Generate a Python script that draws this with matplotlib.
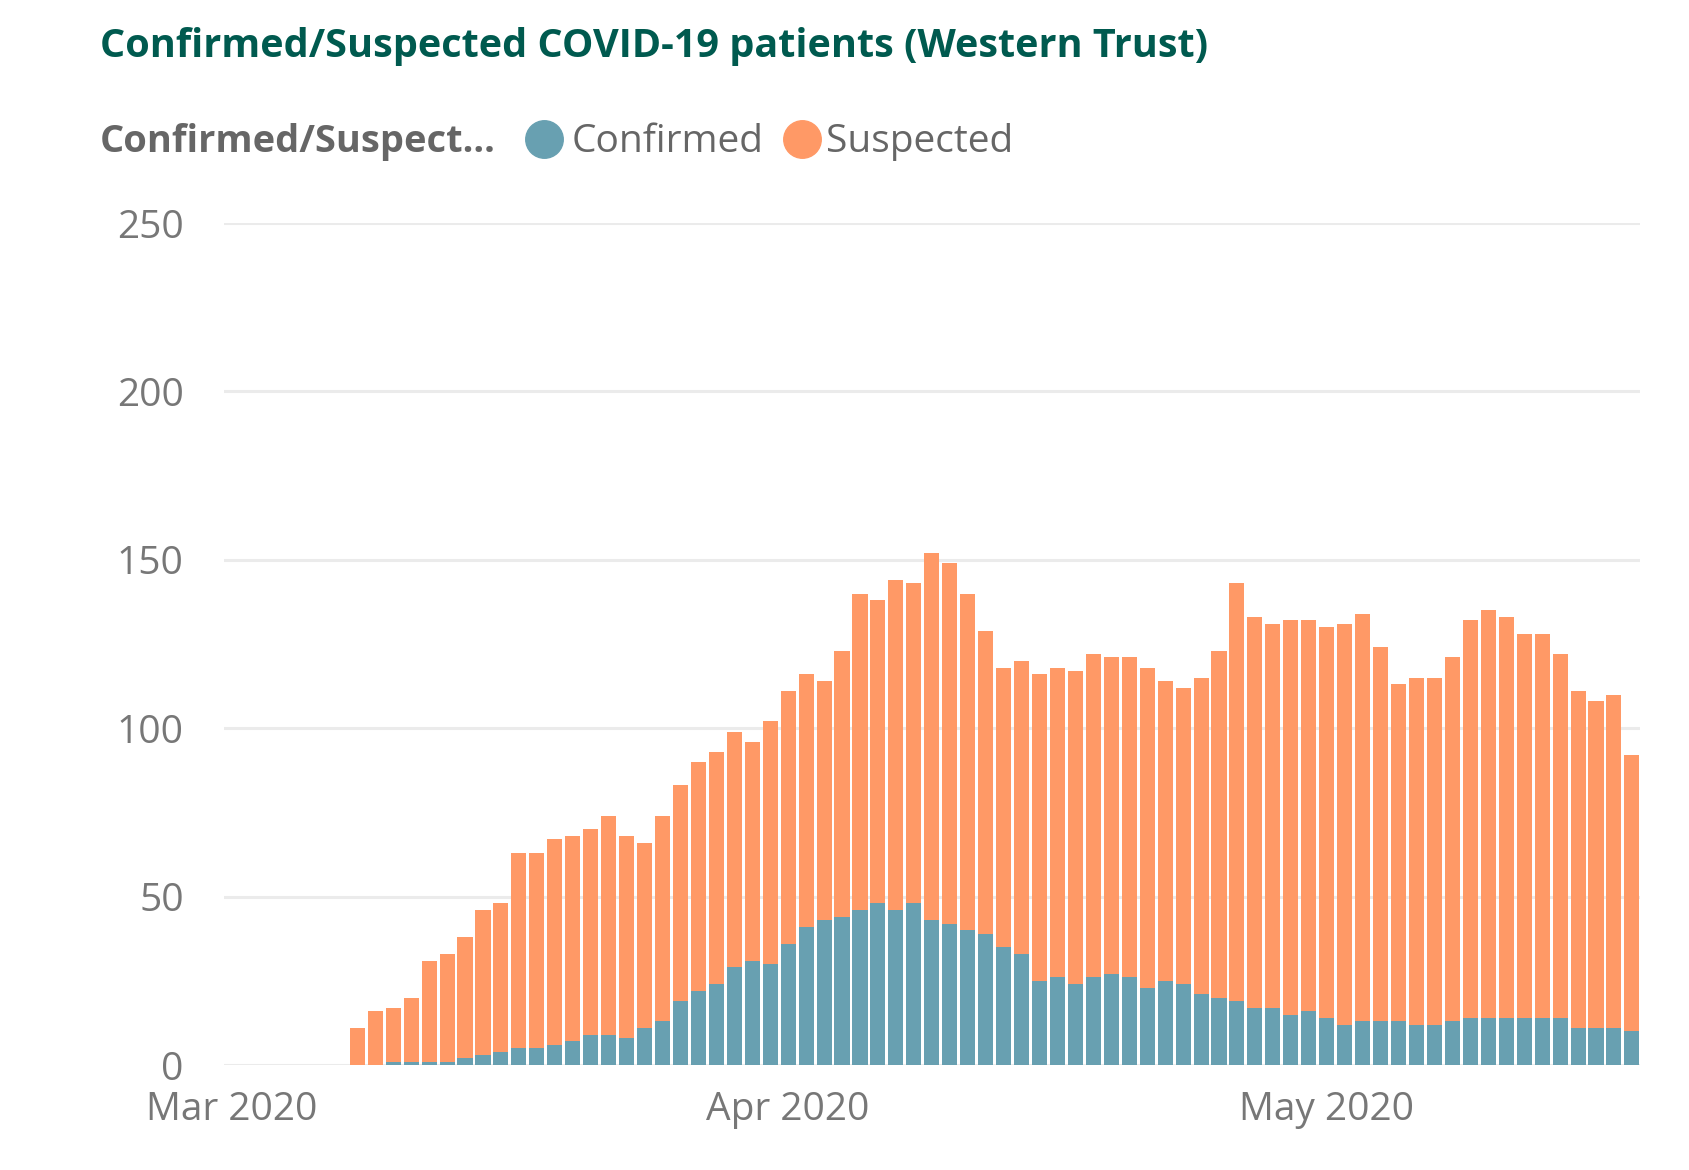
import datetime as dt
import matplotlib
matplotlib.use("Agg")
import matplotlib.pyplot as plt
import matplotlib.dates as mdates
from matplotlib.lines import Line2D

plt.rcParams['font.family'] = ['Open Sans', 'DejaVu Sans']

# daily values, 8 Mar 2020 .. 18 May 2020
start = dt.date(2020, 3, 8)
total = [11, 16, 17, 20, 31, 33, 38, 46, 48, 63, 63, 67, 68, 70, 74, 68, 66, 74,
         83, 90, 93, 99, 96, 102, 111, 116, 114, 123, 140, 138, 144, 143, 152, 149,
         140, 129, 118, 120, 116, 118, 117, 122, 121, 121, 118, 114, 112, 115, 123,
         143, 133, 131, 132, 132, 130, 131, 134, 124, 113, 115, 115, 121, 132, 135,
         133, 128, 128, 122, 111, 108, 110, 92]
confirmed = [0, 0, 1, 1, 1, 1, 2, 3, 4, 5, 5, 6, 7, 9, 9, 8, 11, 13,
             19, 22, 24, 29, 31, 30, 36, 41, 43, 44, 46, 48, 46, 48, 43, 42,
             40, 39, 35, 33, 25, 26, 24, 26, 27, 26, 23, 25, 24, 21, 20,
             19, 17, 17, 15, 16, 14, 12, 13, 13, 13, 12, 12, 13, 14, 14,
             14, 14, 14, 14, 11, 11, 11, 10]
suspected = [t - c for t, c in zip(total, confirmed)]
dates = [start + dt.timedelta(days=i) for i in range(len(total))]

yticks = [0, 50, 100, 150, 200, 250]
month_ticks = [dt.date(2020, 3, 1), dt.date(2020, 4, 1), dt.date(2020, 5, 1)]
month_labels = ['Mar 2020', 'Apr 2020', 'May 2020']

c_conf = '#68A0B1'
c_susp = '#FF9966'
grey = '#777777'

fig = plt.figure(figsize=(16.9, 11.7), dpi=100)
ax = fig.add_axes([0.1325, 0.0897, 0.8379, 0.7197])

x = mdates.date2num(dates)
ax.bar(x, confirmed, width=0.84, color=c_conf, zorder=3)
ax.bar(x, suspected, width=0.84, bottom=confirmed, color=c_susp, zorder=3)

ax.set_ylim(0, 250)
ax.set_xlim(mdates.date2num(dt.date(2020, 3, 1)) - 0.43, x[-1] + 0.45)
ax.set_yticks(yticks)
ax.set_xticks(mdates.date2num(month_ticks))
ax.set_xticklabels(month_labels)
ax.grid(axis='y', color='#EBEBEB', linewidth=2.2, zorder=0)
ax.tick_params(length=0, labelsize=28, colors=grey)
ax.tick_params(axis='y', pad=29)
ax.tick_params(axis='x', pad=19)
for s in ax.spines.values():
    s.set_visible(False)

fig.text(0.059, 0.960, 'Confirmed/Suspected COVID-19 patients (Western Trust)',
         fontsize=28.5, fontweight='bold', color='#005A4F', va='center')

# legend row
fig.text(0.059, 0.879, 'Confirmed/Suspect...', fontsize=27.4, fontweight='bold',
         color='#666666', va='center')
fig.add_artist(Line2D([0.322], [0.881], marker='o', markersize=27, color=c_conf,
                      transform=fig.transFigure))
fig.text(0.338, 0.879, 'Confirmed', fontsize=28, color='#666666', va='center')
fig.add_artist(Line2D([0.4745], [0.881], marker='o', markersize=27, color=c_susp,
                      transform=fig.transFigure))
fig.text(0.489, 0.879, 'Suspected', fontsize=28, color='#666666', va='center')

fig.savefig('out.png', dpi=100)
